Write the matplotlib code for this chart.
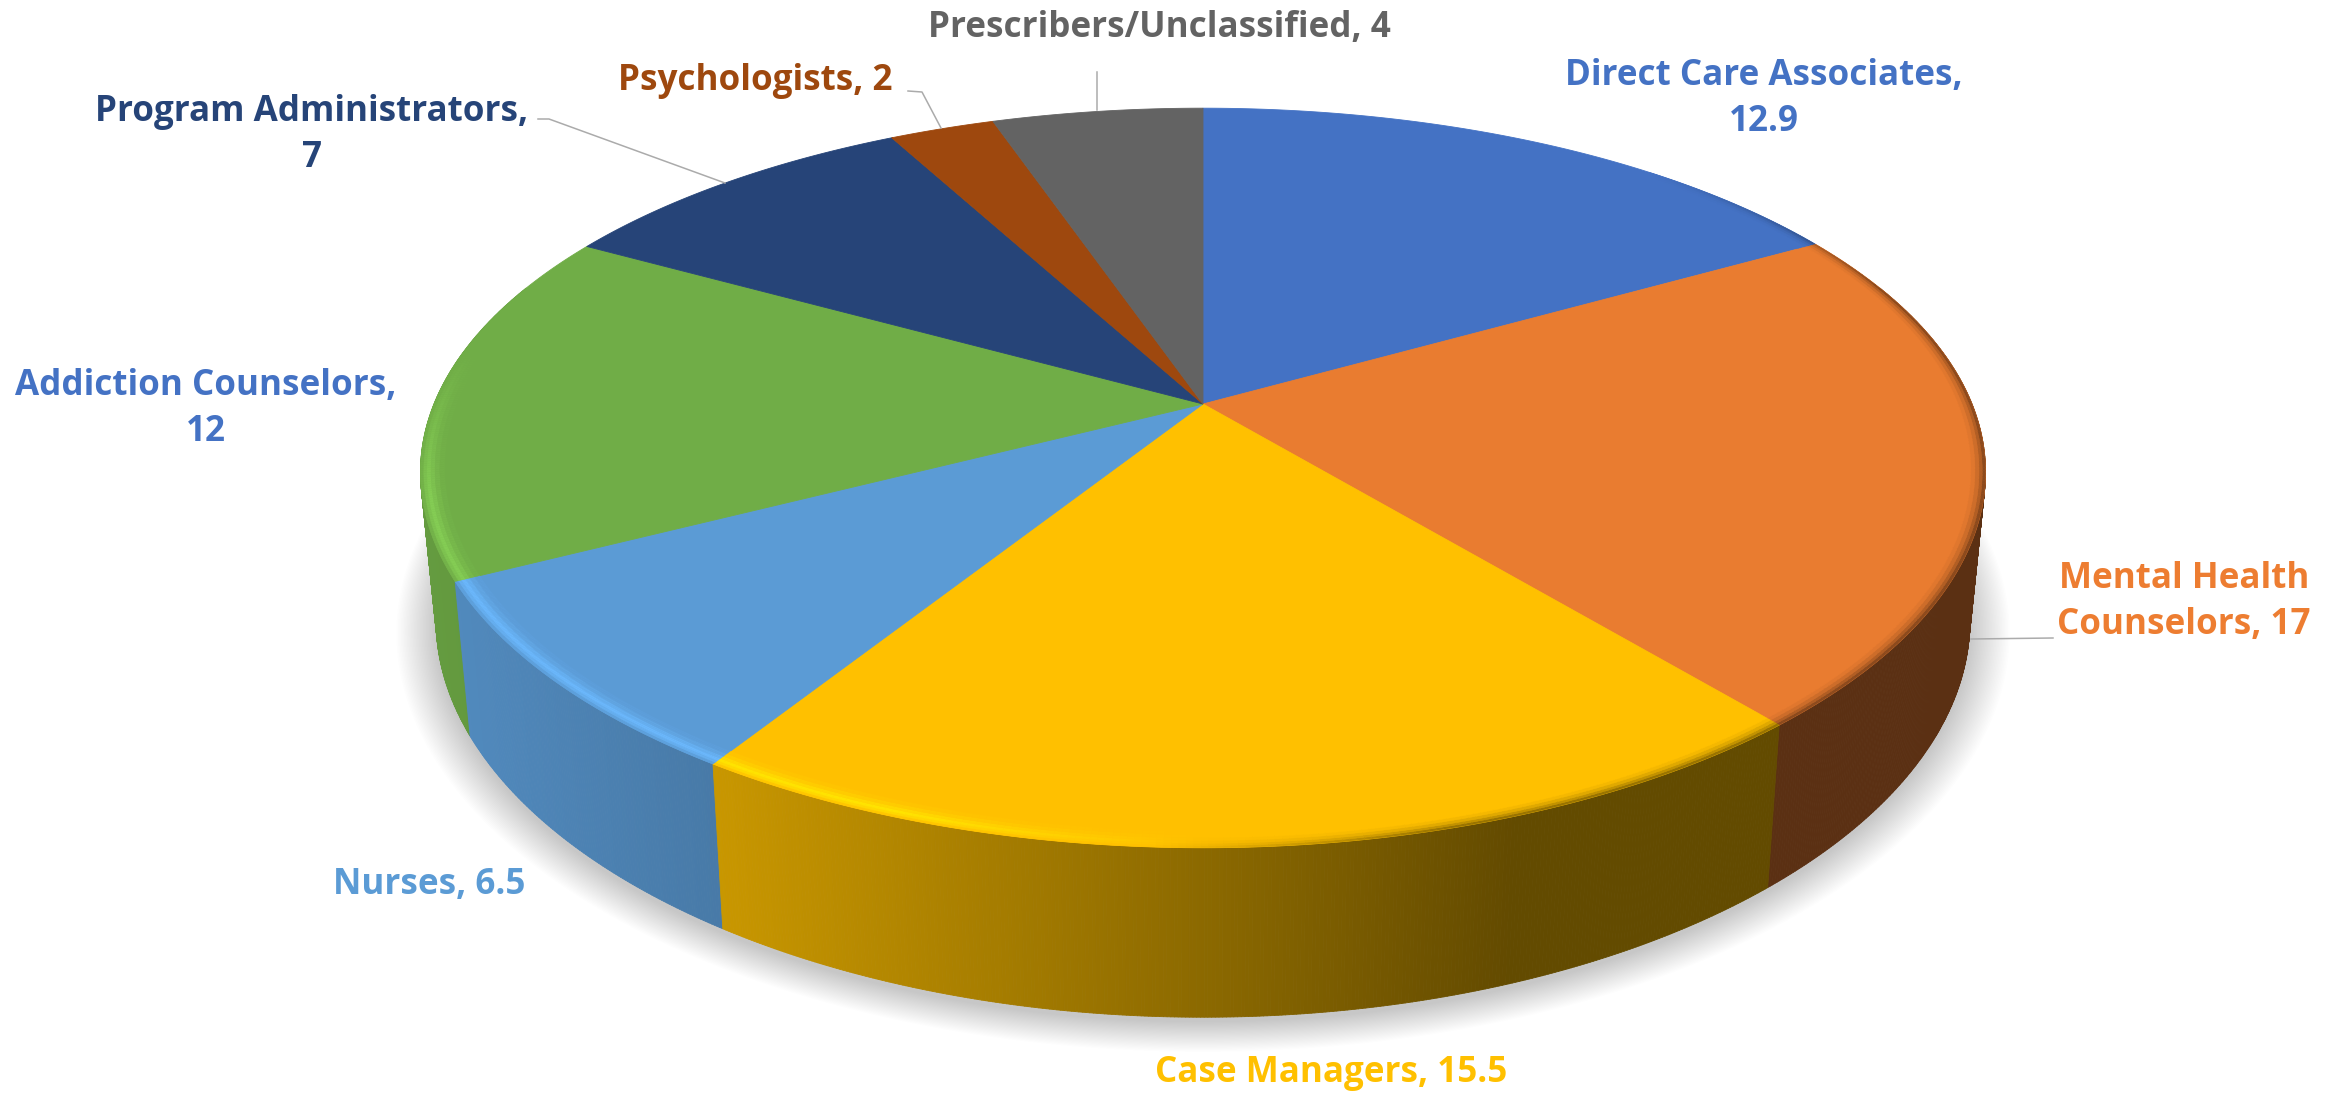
import numpy as np
import matplotlib
matplotlib.use('Agg')
import matplotlib.pyplot as plt
from matplotlib.collections import PolyCollection

# Provided data
categories = ['Direct Care Associates', 'Mental Health Counselors', 'Case Managers', 'Nurses',
              'Addiction Counselors', 'Program Administrators', 'Psychologists', 'Prescribers/Unclassified']
values = [12.9, 17, 15.5, 6.5, 12, 7, 2, 4]
labels = ['Direct Care Associates,\n12.9', 'Mental Health\nCounselors, 17', 'Case Managers, 15.5', 'Nurses, 6.5',
          'Addiction Counselors,\n12', 'Program Administrators,\n7', 'Psychologists, 2', 'Prescribers/Unclassified, 4']

colors = ['#4472C4', '#E97C30', '#FFC000', '#5B9BD5', '#70AD47', '#264478', '#9E480E', '#636363']
label_colors = ['#4472C4', '#ED7D31', '#FFC000', '#5B9BD5', '#4472C4', '#264478', '#9E480E', '#636363']
label_pos = [(1764, 99), (2184, 602), (1331, 1073), (429, 885), (206, 409), (312, 135), (755, 81), (1159, 28)]

# pie geometry, in pixels of the output
cx, cy = 1203, 404
A, B = 769, 355
kx, ky = 0.185, 0.2


def top(theta, r=1.0):
    # perspective of the pie disc, theta clockwise from 12 o'clock
    u, v = r * np.sin(theta), r * np.cos(theta)
    return cx + A * u / (1 + kx * v), cy - B * v / (1 + ky * v)


def bottom(theta, r=1.0):
    x, y = top(theta, r)
    return cx + (x - cx) * 0.98, y + 122 + 0.056 * y


def wall_shade(x):
    return np.interp(x, [420, 730, 1200, 1300, 1512, 2000], [0.9, 0.78, 0.55, 0.5, 0.39, 0.39])


fig = plt.figure(figsize=(23.43, 10.95), dpi=100)
ax = fig.add_axes([0, 0, 1, 1])
ax.set_xlim(0, 2343)
ax.set_ylim(1095, 0)
ax.axis('off')

edges = np.cumsum([0] + values) / sum(values) * 2 * np.pi

# soft shadow under the pie
circle = np.linspace(0, 2 * np.pi, 360)
for t in np.linspace(1.05, 1.0, 28):
    x, y = bottom(circle, t)
    ax.fill(x, y + 5, color='black', alpha=0.0065, lw=0, zorder=1)

# side walls, far quads first
quads, quad_colors, depth = [], [], []
for i, c in enumerate(colors):
    base = np.array(matplotlib.colors.to_rgb(c))
    a0, a1 = edges[i], edges[i + 1]
    n = max(int((a1 - a0) / 0.004), 2)
    th = np.linspace(a0, a1, n + 1)
    for t0, t1 in zip(th[:-1], th[1:]):
        if np.cos((t0 + t1) / 2) > 0.35:
            continue
        x0, y0 = top(t0)
        x1, y1 = top(t1)
        x2, y2 = bottom(t1)
        x3, y3 = bottom(t0)
        quads.append([(x0, y0), (x1, y1), (x2, y2), (x3, y3)])
        quad_colors.append(base * wall_shade((x0 + x1) / 2))
        depth.append(np.cos((t0 + t1) / 2))
order = np.argsort(depth)[::-1]
ax.add_collection(PolyCollection([quads[j] for j in order], facecolors=[quad_colors[j] for j in order],
                                 edgecolors='face', linewidths=0.6, zorder=2))

# top face of every slice
for i, c in enumerate(colors):
    th = np.linspace(edges[i], edges[i + 1], 200)
    x, y = top(th)
    ax.fill(np.r_[cx, x], np.r_[cy, y], color=c, lw=0.6, zorder=3)

# bevel on the rim: bright on the left, dark on the right
ring_r = [1.0, 0.996, 0.992, 0.987, 0.982, 0.976, 0.97]
ring_glow = [0.2, 0.7, 1.0, 0.7, 0.35, 0.12]
ring_dark = [0.5, 0.3, 0.15, 0.05, 0.0, 0.0]
rim, rim_colors = [], []
for i, c in enumerate(colors):
    base = np.array(matplotlib.colors.to_rgb(c))
    th = np.linspace(edges[i], edges[i + 1], 160)
    for t0, t1 in zip(th[:-1], th[1:]):
        tm = (t0 + t1) / 2
        xm, _ = top(tm)
        fade = np.clip((0.15 - np.cos(tm)) / 0.4, 0, 1)
        glow = np.clip((1200 - xm) / 300, 0, 1) * fade
        dark = np.clip((xm - 1150) / 300, 0, 1) * np.clip((0.75 - np.cos(tm)) / 0.4, 0, 1)
        if glow == 0 and dark == 0:
            continue
        for j in range(len(ring_glow)):
            col = base + (np.minimum(base * 1.18, 1) - base) * glow * ring_glow[j]
            col = col * (1 - 0.8 * dark * ring_dark[j])
            r0, r1 = ring_r[j], ring_r[j + 1]
            xa, ya = top(t0, r0)
            xb, yb = top(t1, r0)
            xc, yc = top(t1, r1)
            xd, yd = top(t0, r1)
            rim.append([(xa, ya), (xb, yb), (xc, yc), (xd, yd)])
            rim_colors.append(col)
ax.add_collection(PolyCollection(rim, facecolors=rim_colors, edgecolors='face', linewidths=0.3, zorder=4))

# leader lines
leaders = [([2053, 1971], [638, 639]), ([538, 549, 725], [119, 119, 183]), ([908, 922, 941], [91, 92, 128]),
           ([1097, 1097], [72, 110])]
for lx, ly in leaders:
    ax.plot(lx, ly, color='#ABABAB', lw=1.1, zorder=5)

# data labels
for text, c, (x, y) in zip(labels, label_colors, label_pos):
    ax.text(x, y, text, color=c, fontsize=25.2, fontweight='bold', family='Open Sans',
            ha='center', va='center', linespacing=1.4, zorder=6)

fig.savefig('out.png', dpi=100)
